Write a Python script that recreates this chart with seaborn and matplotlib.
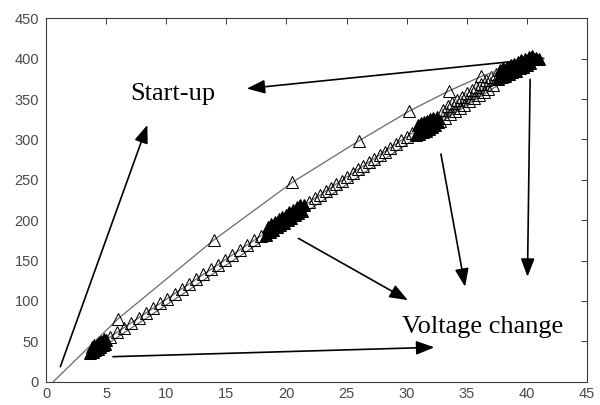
import matplotlib
matplotlib.use("Agg")
import matplotlib.pyplot as plt
import seaborn as sns
import numpy as np

# Start-up trajectory (upper curve)
startup_x = [0.6, 6.0, 14.0, 20.5, 26.0, 30.2, 33.5, 36.2, 38.6, 40.6]
startup_y = [0, 78, 176, 247, 298, 335, 360, 378, 391, 400]

# Voltage-change trajectory: settling clusters and the ramps between them
settle1_x = [3.7, 3.8, 3.9, 4.0, 4.1, 4.2, 4.3, 4.4, 4.5, 4.6, 4.7, 4.8, 4.9, 5.0]
settle1_y = [35, 43, 37, 45, 39, 47, 41, 49, 43, 51, 45, 53, 47, 52]

ramp1_x = [5.3, 5.9, 6.5, 7.1, 7.7, 8.3, 8.9, 9.5, 10.1, 10.7, 11.3, 11.9,
           12.5, 13.1, 13.7, 14.3, 14.9, 15.5, 16.1, 16.7, 17.3, 17.9]
ramp1_y = [55, 61, 67, 73, 79, 85, 91, 97, 103, 109, 115, 121,
           127, 133, 139, 145, 151, 157, 163, 169, 175, 181]

settle2_x = [18.3, 18.45, 18.6, 18.75, 18.9, 19.05, 19.2, 19.35, 19.5, 19.65,
             19.8, 19.95, 20.1, 20.25, 20.4, 20.55, 20.7, 20.85, 21.0, 21.15,
             21.3, 21.45]
settle2_y = [182, 192, 185, 195, 188, 198, 191, 201, 194, 204,
             197, 207, 200, 210, 203, 213, 206, 216, 209, 219,
             212, 219]

ramp2_x = [21.9, 22.35, 22.8, 23.25, 23.7, 24.15, 24.6, 25.05, 25.5, 25.95,
           26.4, 26.85, 27.3, 27.75, 28.2, 28.65, 29.1, 29.55, 30.0, 30.45]
ramp2_y = [222, 227, 231, 236, 240, 245, 249, 254, 258, 263,
           267, 272, 276, 281, 285, 290, 294, 299, 303, 308]

settle3_x = [30.8, 30.93, 31.06, 31.19, 31.32, 31.45, 31.58, 31.71, 31.84,
             31.97, 32.1, 32.23, 32.36, 32.49, 32.6]
settle3_y = [306, 318, 307, 320, 309, 322, 311, 323, 313,
             325, 316, 327, 318, 328, 322]

ramp3_x = [32.8, 33.0, 33.2, 33.4, 33.6, 33.8, 34.0, 34.2, 34.4, 34.6, 34.8,
           35.0, 35.2, 35.4, 35.6, 35.8, 36.0, 36.2, 36.4, 36.6, 36.8, 37.0,
           37.2, 37.4]
ramp3_y = [323, 337, 327, 341, 331, 345, 335, 349, 339, 353, 343,
           357, 347, 361, 351, 365, 355, 369, 359, 373, 363, 377,
           367, 381]

settle4_x = [37.6, 37.75, 37.9, 38.05, 38.2, 38.35, 38.5, 38.65, 38.8, 38.95,
             39.1, 39.25, 39.4, 39.55, 39.7, 39.85, 40.0, 40.15, 40.3, 40.45,
             40.6, 40.8, 41.0]
settle4_y = [375, 386, 377, 388, 379, 390, 381, 392, 383, 394,
             385, 396, 388, 398, 390, 400, 392, 402, 395, 403,
             399, 401, 400]

# Return path of the voltage change, drawn without markers
ret_x = [40.8, 30.0, 20.0, 10.0, 4.0]
ret_y = [398, 294, 194, 95, 36]

x_ticks = [0, 5, 10, 15, 20, 25, 30, 35, 40, 45]
y_ticks = [0, 50, 100, 150, 200, 250, 300, 350, 400, 450]

settles = [(settle1_x, settle1_y), (settle2_x, settle2_y),
           (settle3_x, settle3_y), (settle4_x, settle4_y)]
vc_x = np.concatenate([settle1_x, ramp1_x, settle2_x, ramp2_x,
                       settle3_x, ramp3_x, settle4_x])
vc_y = np.concatenate([settle1_y, ramp1_y, settle2_y, ramp2_y,
                       settle3_y, ramp3_y, settle4_y])

sns.set_style("white")
plt.rcParams["font.family"] = ["Liberation Sans", "DejaVu Sans"]

fig = plt.figure(figsize=(6.0, 4.05), dpi=100)
ax = fig.add_axes([0.0767, 0.0575, 0.9016, 0.8973])

line_grey = "#6a6a6a"
marker_kw = dict(marker="^", markersize=8, markerfacecolor="none",
                 markeredgecolor="black", markeredgewidth=0.75)

sns.lineplot(x=ret_x, y=ret_y, sort=False, estimator=None,
             color=line_grey, linewidth=0.9, ax=ax)
sns.lineplot(x=vc_x, y=vc_y, sort=False, estimator=None,
             color=line_grey, linewidth=0.9, ax=ax, **marker_kw)
# overlapping markers in the settling clusters merge into solid patches
for sx, sy in settles:
    sns.scatterplot(x=sx, y=sy, marker="^", s=60, color="black",
                    edgecolor="black", linewidth=0.6, ax=ax, zorder=3)
sns.lineplot(x=startup_x, y=startup_y, sort=False, estimator=None,
             color=line_grey, linewidth=0.9, ax=ax,
             markevery=list(range(1, len(startup_x))), **marker_kw)

ax.set_xlim(0, 45)
ax.set_ylim(0, 450)
ax.set_xticks(x_ticks)
ax.set_yticks(y_ticks)
ax.set_xlabel("")
ax.set_ylabel("")

axis_col = "#3c3c3c"
for s in ax.spines.values():
    s.set_visible(True)
    s.set_color(axis_col)
    s.set_linewidth(0.8)
ax.tick_params(direction="in", top=True, right=True, length=4, width=0.7,
               color=axis_col, labelcolor="#4a4a4a", labelsize=10.5)
ax.tick_params(axis="x", pad=4)
ax.tick_params(axis="y", pad=5)
ax.grid(False)

arrow_kw = dict(arrowstyle="-|>,head_length=1.1,head_width=0.42",
                mutation_scale=10, color="black", lw=1.2,
                shrinkA=0, shrinkB=0)
arrows = [
    ((1.19, 18.6), (8.43, 318)),
    ((41.4, 400.4), (16.7, 363)),
    ((21.0, 177.5), (30.1, 101)),
    ((32.85, 282), (34.86, 117.6)),
    ((40.27, 374.4), (40.05, 130)),
    ((5.57, 31), (32.3, 42.6)),
]
for tail, head in arrows:
    ax.annotate("", xy=head, xytext=tail, arrowprops=arrow_kw)

serif = ["Liberation Serif", "DejaVu Serif"]
ax.text(6.99, 348.8, "Start-up", family=serif, fontsize=19,
        ha="left", va="baseline", color="black")
ax.text(29.6, 60.3, "Voltage change", family=serif, fontsize=19,
        ha="left", va="baseline", color="black")

fig.savefig("out.png", dpi=100)
